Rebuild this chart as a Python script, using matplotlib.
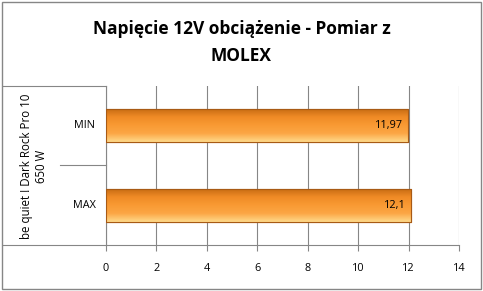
import numpy as np
import matplotlib.pyplot as plt
from matplotlib.lines import Line2D
from matplotlib.patches import Rectangle
from matplotlib.colors import LinearSegmentedColormap

categories = ['MIN', 'MAX']
values = [11.97, 12.1]
labels = ['11,97', '12,1']
group = 'be quiet ! Dark Rock Pro 10\n650 W'
title = 'Napięcie 12V obciążenie - Pomiar z\nMOLEX'

plt.rcParams['font.family'] = ['Open Sans', 'DejaVu Sans']

W, H = 483, 291
fig = plt.figure(figsize=(W / 100, H / 100), dpi=100)
ax = fig.add_axes([106 / W, 1 - 245 / H, (459 - 106) / W, (245 - 86) / H])

grid_c = '#868686'
y = np.arange(len(categories))
bars = ax.barh(y, values, height=0.42, color='#F7941D', edgecolor='#B5651D', linewidth=0.8, zorder=3)

# vertical gradient to mimic the bevelled bars
cmap = LinearSegmentedColormap.from_list('bevel', ['#FFD98A', '#FCA645', '#F99A33', '#EF8A25', '#C46A12'])
grad = np.linspace(0, 1, 64).reshape(-1, 1)
for b in bars:
    x0, y0 = b.get_x(), b.get_y()
    w, h = b.get_width(), b.get_height()
    im = ax.imshow(grad, aspect='auto', cmap=cmap, extent=(x0, x0 + w, y0, y0 + h),
                   origin='upper', zorder=3.5)
    im.set_clip_path(b)
    ax.add_patch(Rectangle((x0, y0), w, h, fill=False, edgecolor='#A85A15', linewidth=0.8, zorder=4))

for yi, v, lab in zip(y, values, labels):
    ax.text(v - 0.2, yi, lab, ha='right', va='center', fontsize=7.8, color='black', zorder=5)

ax.set_xlim(0, 14)
ax.set_ylim(1.5, -0.5)
ax.set_xticks(range(0, 15, 2))
ax.tick_params(axis='x', length=4, color=grid_c, labelsize=7.8, pad=9)
ax.set_yticks([])
ax.grid(axis='x', color=grid_c, linewidth=0.8, zorder=0)
for s in ['top', 'right']:
    ax.spines[s].set_visible(False)
for s in ['left', 'bottom']:
    ax.spines[s].set_color(grid_c)
    ax.spines[s].set_linewidth(0.8)

# multi-level category axis
def fx(px):
    return px / W

def fy(py):
    return 1 - py / H

for (xa, xb, yy) in [(3, 106, 245), (3, 106, 86), (60, 106, 165)]:
    fig.add_artist(Line2D([fx(xa), fx(xb)], [fy(yy), fy(yy)], color=grid_c, linewidth=0.8))

fig.text(fx(84), fy(125.5), categories[0], ha='center', va='center', fontsize=7.8)
fig.text(fx(84), fy(205.5), categories[1], ha='center', va='center', fontsize=7.8)
fig.text(fx(34), fy(166), group, ha='center', va='center', rotation=90, fontsize=8.3,
         multialignment='center', linespacing=1.25)

fig.text(0.5, fy(42.5), title, ha='center', va='center', fontsize=12.5, fontweight='bold',
         linespacing=1.65)

fig.add_artist(Rectangle((fx(2), fy(289)), fx(479), 287 / H, fill=False,
                         edgecolor=grid_c, linewidth=1, transform=fig.transFigure))

fig.savefig('out.png', dpi=100)
